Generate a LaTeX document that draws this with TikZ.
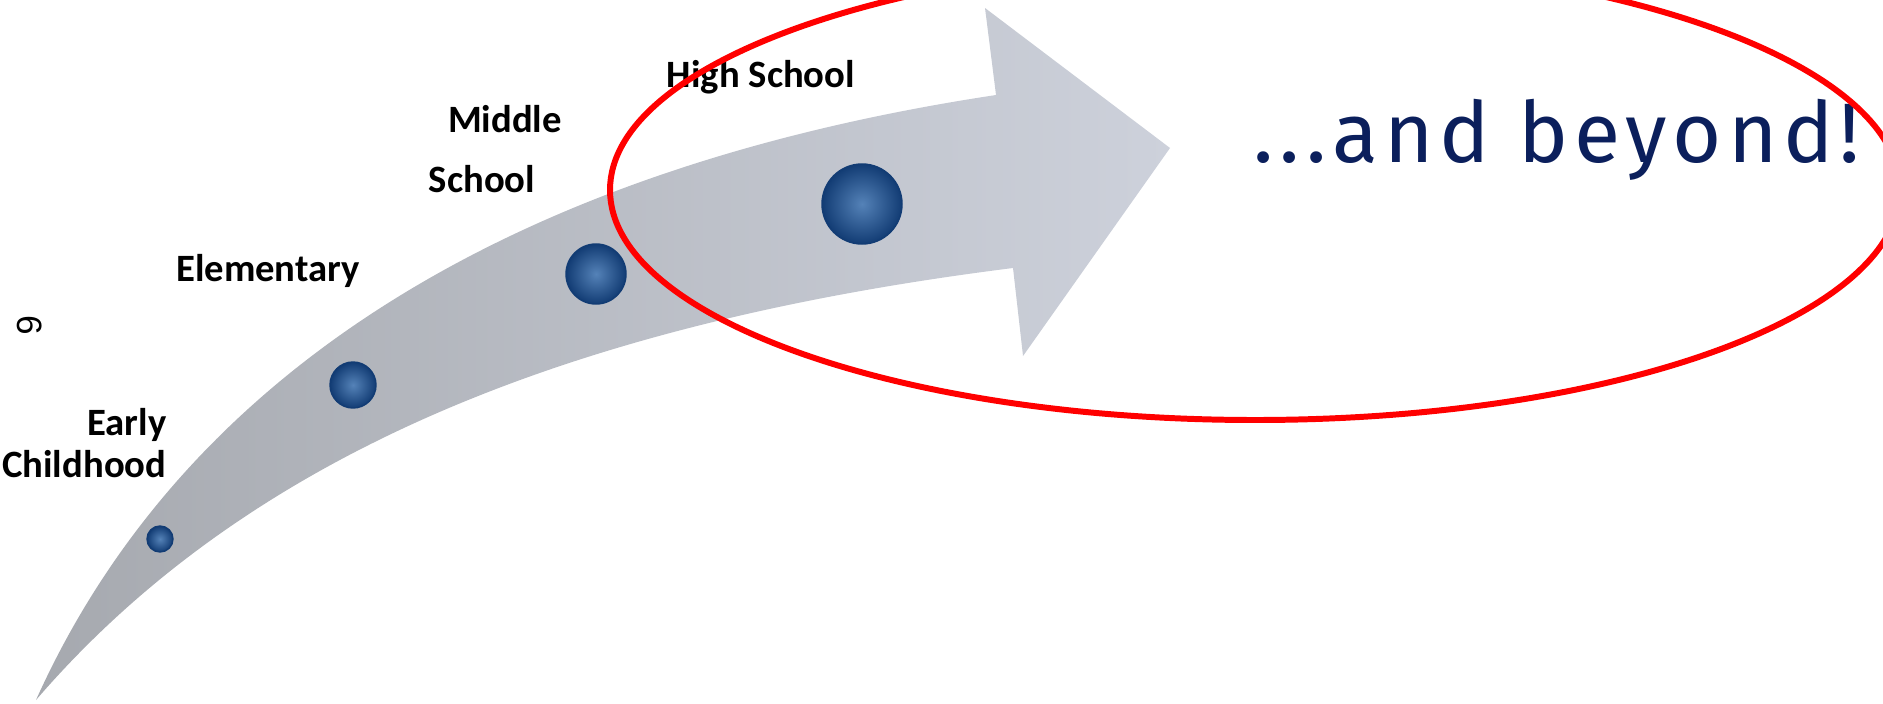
\documentclass[tikz,border=0pt]{standalone}
\usepackage{fontspec}
\setmainfont{Carlito}
\newfontfamily\beyondfont[LetterSpace=7]{Fira Sans}
\newfontfamily\pagefont{Liberation Sans}
\definecolor{arrowgray}{HTML}{A6A9AF}
\definecolor{arrowlight}{HTML}{CDD1DB}
\definecolor{beadblue}{HTML}{2A63A6}
\definecolor{beaddark}{HTML}{123C74}
\definecolor{beyondnavy}{HTML}{0B1F5C}
\definecolor{ringred}{HTML}{FF0000}

\begin{document}
\begin{tikzpicture}[x=0.01cm, y=-0.01cm,
  every node/.style={font=\fontsize{11}{11.7}\selectfont\bfseries},
  stage/.style={inner sep=0pt, text=black},
  bead/.style={circle, inner sep=0pt, draw=beaddark, thin,
               inner color=beadblue!80!white, outer color=beaddark},
]
  \useasboundingbox (0,0) rectangle (1883,703);
  \clip (0,0) rectangle (1883,703);

  % Arrow
  \shade[left color=arrowgray, right color=arrowlight]
    (36,700) .. controls (180,380) and (500,170) .. (996,95)
    -- (985,8) -- (1170,148) -- (1023,356) -- (1013,268)
    .. controls (600,320) and (260,440) .. (36,700) -- cycle;

  % Stages
  \node[bead, minimum size=0.26cm] (dot1) at (160,539) {};
  \node[bead, minimum size=0.46cm] (dot2) at (353,385) {};
  \node[bead, minimum size=0.60cm] (dot3) at (596,274) {};
  \node[bead, minimum size=0.80cm] (dot4) at (862,204) {};

  % Labels
  \node[stage, align=right, anchor=east] (early) at (167,443) {Early\\Childhood};
  \node[stage] (elementary) at (268,271) {Elementary};
  \node[stage] (middle) at (505,119) {Middle};
  \node[stage] (school) at (482,179) {School};
  \node[stage] (high) at (761,77) {High School};

  % Beyond
  \node[anchor=base west, inner sep=0pt, text=beyondnavy,
        font=\beyondfont\fontsize{24}{27}\selectfont] (beyond) at (1253,162)
    {...and beyond!};
  \draw[ringred, line width=1.7pt] (1255,190) ellipse [x radius=645, y radius=230];

  % Page number
  \node[rotate=-90, font=\pagefont\fontsize{10}{12}\selectfont] (page) at (30,325) {6};
\end{tikzpicture}
\end{document}
